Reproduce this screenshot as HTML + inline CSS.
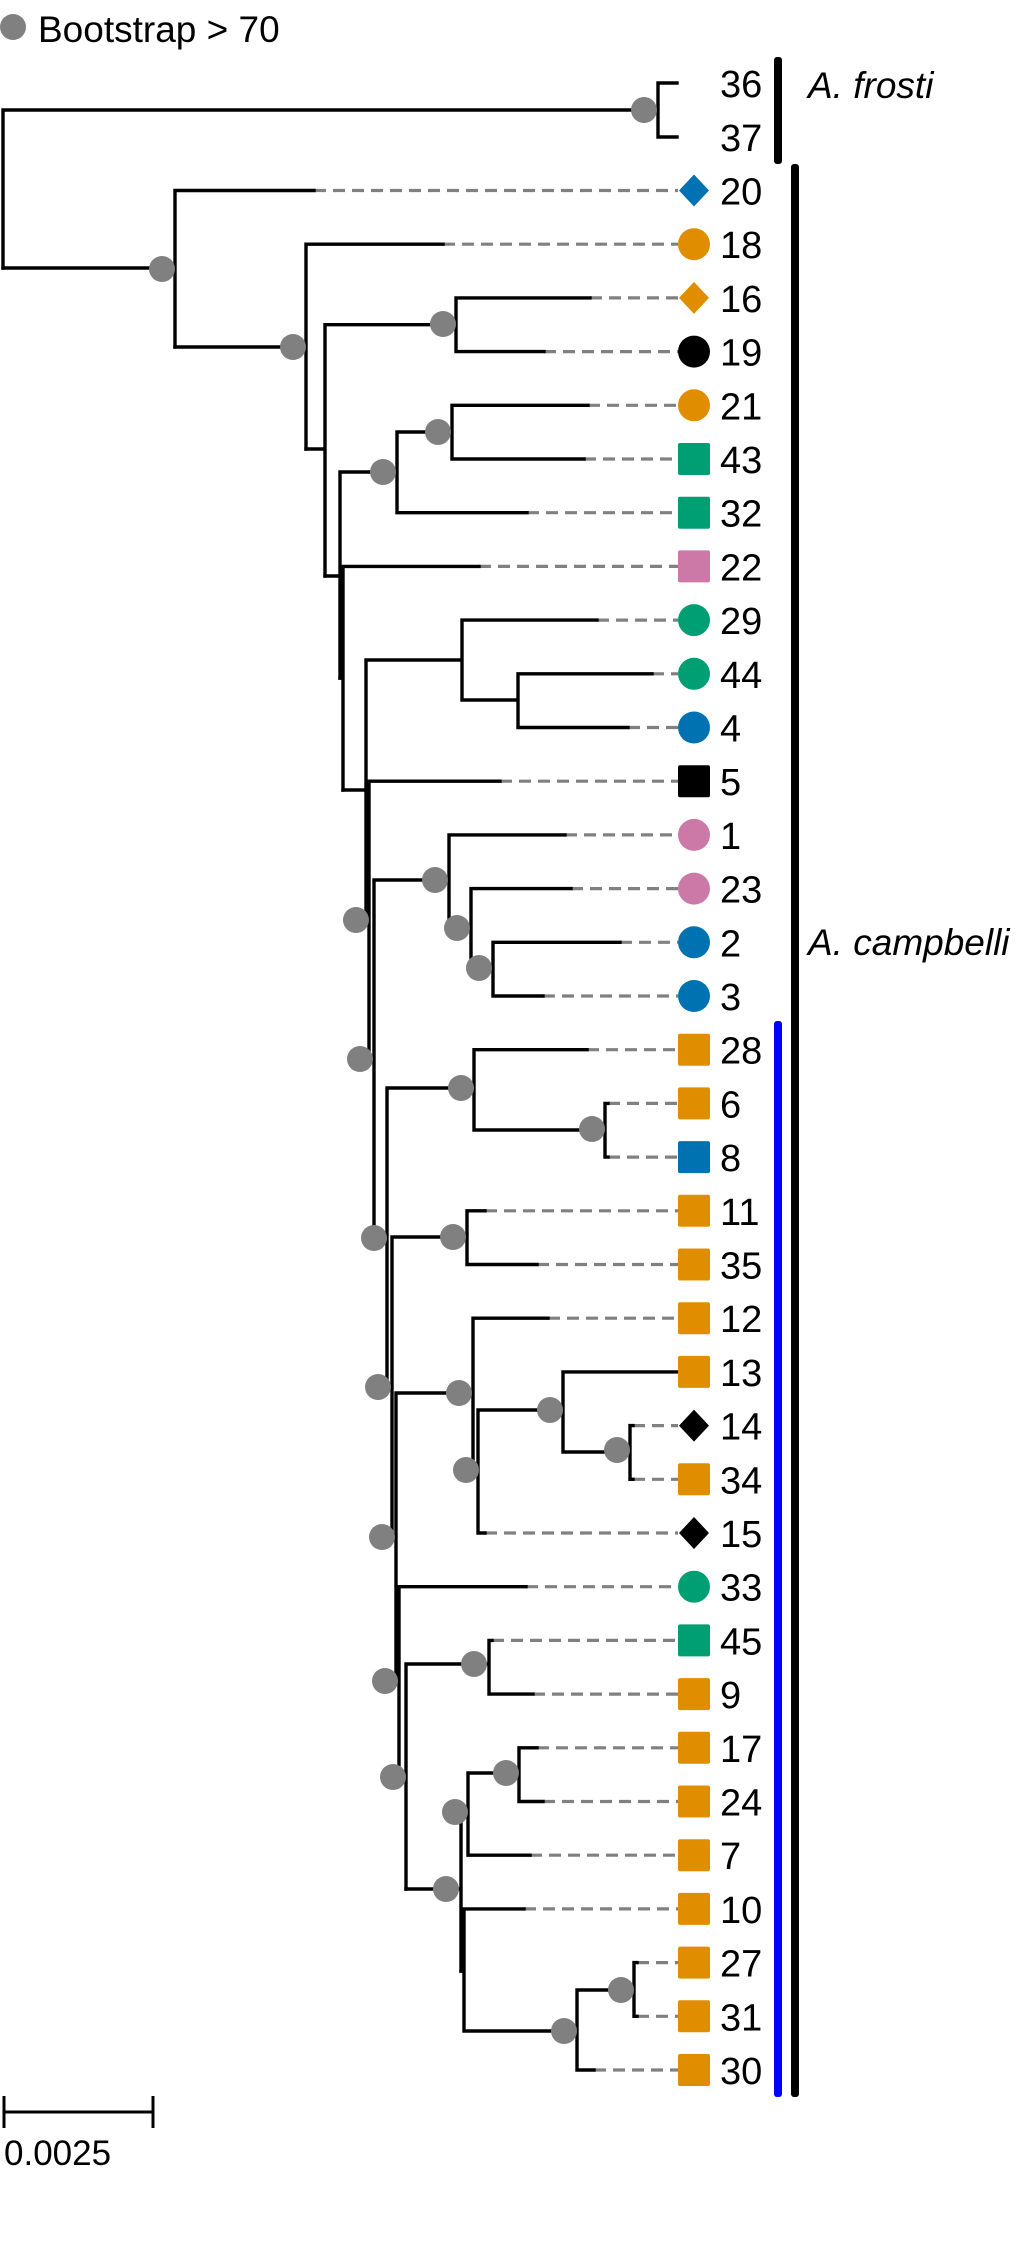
<!DOCTYPE html>
<html><head><meta charset="utf-8"><style>
html,body{margin:0;padding:0;background:#fff;}
svg{display:block;}
text{font-family:"Liberation Sans",sans-serif;fill:#000;}
</style></head><body>
<svg width="1024" height="2245" viewBox="0 0 1024 2245" xmlns="http://www.w3.org/2000/svg">
<!-- legend -->
<circle cx="13" cy="27" r="13" fill="#808080"/>
<text x="38" y="42" font-size="37">Bootstrap &gt; 70</text>

<!-- dashed leaf extensions -->
<g stroke="#808080" stroke-width="3.2" stroke-dasharray="12,7" fill="none">
<path d="M314 190.5H678M443 244.2H678M590 297.9H678M544 351.6H678M588 405.3H678M584 459H678M527 512.7H678M479 566.4H678M597 620.1H678M652 673.8H678M628 727.5H678M500 781.2H678M565 834.9H678M571 888.6H678M620 942.3H678M543 996H678M587 1049.7H678M608 1103.4H678M608 1157.1H678M485 1210.8H678M537 1264.5H678M548 1318.2H678M633 1425.6H678M633 1479.3H678M485 1533H678M526 1586.7H678M492 1640.4H678M533 1694.1H678M537 1747.8H678M543 1801.5H678M530 1855.2H678M524 1908.9H678M637 1962.6H678M637 2016.3H678M594 2070H678"/>
</g>

<!-- solid tree -->
<g stroke="#000" stroke-width="3.4" fill="none" stroke-linecap="square">
<path d="M3 110V268M3 110H658M658 83V137M658 83H677M658 137H677"/>
<path d="M3 268H175M175 190.5V347M175 190.5H314"/>
<path d="M175 347H306M306 244.2V449M306 244.2H443"/>
<path d="M306 449H325M325 324.7V576M325 324.7H456M456 297.9V351.6M456 297.9H590M456 351.6H544"/>
<path d="M325 576H340M340 472V678M340 472H397M397 432V512.7M397 512.7H527M397 432H452M452 405.3V459M452 405.3H588M452 459H584"/>
<path d="M340 678H343M343 566.4V790M343 566.4H479"/>
<path d="M343 790H366M366 660V920M366 660H462M462 620.1V700M462 620.1H597M462 700H518M518 673.8V727.5M518 673.8H652M518 727.5H628"/>
<path d="M366 920H369M369 781.2V1059M369 781.2H500"/>
<path d="M369 1059H374M374 880V1237M374 880H449M449 834.9V928M449 834.9H565M449 928H471M471 888.6V969M471 888.6H571M471 969H493M493 942.3V996M493 942.3H620M493 996H543"/>
<path d="M374 1237H387M387 1088V1387M387 1088H474M474 1049.7V1130M474 1049.7H587M474 1130H605M605 1103.4V1157.1M605 1103.4H608M605 1157.1H608"/>
<path d="M387 1387H392M392 1237V1537M392 1237H467M467 1210.8V1264.5M467 1210.8H485M467 1264.5H537"/>
<path d="M392 1537H396M396 1393V1682M396 1393H473M473 1318.2V1470M473 1318.2H548M473 1470H478M478 1410V1533M478 1533H485M478 1410H563M563 1371.9V1452M563 1371.9H678M563 1452H630M630 1425.6V1479.3M630 1425.6H633M630 1479.3H633"/>
<path d="M396 1682H399M399 1586.7V1777M399 1586.7H526M399 1777H406M406 1664V1889M406 1664H489M489 1640.4V1694.1M489 1640.4H492M489 1694.1H533"/>
<path d="M406 1889H461M461 1812V1971M461 1812H468M468 1773V1855.2M468 1855.2H530M468 1773H519M519 1747.8V1801.5M519 1747.8H537M519 1801.5H543"/>
<path d="M461 1971H464M464 1908.9V2031M464 1908.9H524M464 2031H577M577 1990V2070M577 2070H594M577 1990H634M634 1962.6V2016.3M634 1962.6H637M634 2016.3H637"/>
</g>

<!-- bootstrap dots -->
<g fill="#808080">
<circle cx="644" cy="110" r="13"/>
<circle cx="162" cy="269" r="13"/>
<circle cx="293" cy="347" r="13"/>
<circle cx="443" cy="324" r="13"/>
<circle cx="383" cy="472" r="13"/>
<circle cx="438" cy="432" r="13"/>
<circle cx="435" cy="880" r="13"/>
<circle cx="457" cy="928" r="13"/>
<circle cx="479" cy="968" r="13"/>
<circle cx="356" cy="920" r="13"/>
<circle cx="360" cy="1059" r="13"/>
<circle cx="461" cy="1088" r="13"/>
<circle cx="592" cy="1129" r="13"/>
<circle cx="374" cy="1238" r="13"/>
<circle cx="453" cy="1237" r="13"/>
<circle cx="378" cy="1387" r="13"/>
<circle cx="459" cy="1393" r="13"/>
<circle cx="466" cy="1470" r="13"/>
<circle cx="550" cy="1410" r="13"/>
<circle cx="617" cy="1450" r="13"/>
<circle cx="382" cy="1537" r="13"/>
<circle cx="385" cy="1681" r="13"/>
<circle cx="474" cy="1664" r="13"/>
<circle cx="393" cy="1777" r="13"/>
<circle cx="446" cy="1889" r="13"/>
<circle cx="455" cy="1812" r="13"/>
<circle cx="506" cy="1773" r="13"/>
<circle cx="564" cy="2031" r="13"/>
<circle cx="621" cy="1990" r="13"/>
</g>

<!-- tip symbols -->
<g>
<polygon points="694,174.5 709,190.5 694,206.5 679,190.5" fill="#0072B2"/>
<circle cx="694" cy="244.2" r="16" fill="#E08E00"/>
<polygon points="694,281.9 709,297.9 694,313.9 679,297.9" fill="#E08E00"/>
<circle cx="694" cy="351.6" r="16" fill="#000"/>
<circle cx="694" cy="405.3" r="16" fill="#E08E00"/>
<rect x="678" y="443" width="32" height="32" rx="2" fill="#009E73"/>
<rect x="678" y="496.7" width="32" height="32" rx="2" fill="#009E73"/>
<rect x="678" y="550.4" width="32" height="32" rx="2" fill="#CC79A7"/>
<circle cx="694" cy="620.1" r="16" fill="#009E73"/>
<circle cx="694" cy="673.8" r="16" fill="#009E73"/>
<circle cx="694" cy="727.5" r="16" fill="#0072B2"/>
<rect x="678" y="765.2" width="32" height="32" rx="2" fill="#000"/>
<circle cx="694" cy="834.9" r="16" fill="#CC79A7"/>
<circle cx="694" cy="888.6" r="16" fill="#CC79A7"/>
<circle cx="694" cy="942.3" r="16" fill="#0072B2"/>
<circle cx="694" cy="996" r="16" fill="#0072B2"/>
<rect x="678" y="1033.7" width="32" height="32" rx="2" fill="#E08E00"/>
<rect x="678" y="1087.4" width="32" height="32" rx="2" fill="#E08E00"/>
<rect x="678" y="1141.1" width="32" height="32" rx="2" fill="#0072B2"/>
<rect x="678" y="1194.8" width="32" height="32" rx="2" fill="#E08E00"/>
<rect x="678" y="1248.5" width="32" height="32" rx="2" fill="#E08E00"/>
<rect x="678" y="1302.2" width="32" height="32" rx="2" fill="#E08E00"/>
<rect x="678" y="1355.9" width="32" height="32" rx="2" fill="#E08E00"/>
<polygon points="694,1409.6 709,1425.6 694,1441.6 679,1425.6" fill="#000"/>
<rect x="678" y="1463.3" width="32" height="32" rx="2" fill="#E08E00"/>
<polygon points="694,1517 709,1533 694,1549 679,1533" fill="#000"/>
<circle cx="694" cy="1586.7" r="16" fill="#009E73"/>
<rect x="678" y="1624.4" width="32" height="32" rx="2" fill="#009E73"/>
<rect x="678" y="1678.1" width="32" height="32" rx="2" fill="#E08E00"/>
<rect x="678" y="1731.8" width="32" height="32" rx="2" fill="#E08E00"/>
<rect x="678" y="1785.5" width="32" height="32" rx="2" fill="#E08E00"/>
<rect x="678" y="1839.2" width="32" height="32" rx="2" fill="#E08E00"/>
<rect x="678" y="1892.9" width="32" height="32" rx="2" fill="#E08E00"/>
<rect x="678" y="1946.6" width="32" height="32" rx="2" fill="#E08E00"/>
<rect x="678" y="2000.3" width="32" height="32" rx="2" fill="#E08E00"/>
<rect x="678" y="2054" width="32" height="32" rx="2" fill="#E08E00"/>
</g>

<!-- tip labels -->
<g font-size="38">
<text x="720" y="97">36</text>
<text x="720" y="151">37</text>
<text x="720" y="204.5">20</text>
<text x="720" y="258.2">18</text>
<text x="720" y="311.9">16</text>
<text x="720" y="365.6">19</text>
<text x="720" y="419.3">21</text>
<text x="720" y="473">43</text>
<text x="720" y="526.7">32</text>
<text x="720" y="580.4">22</text>
<text x="720" y="634.1">29</text>
<text x="720" y="687.8">44</text>
<text x="720" y="741.5">4</text>
<text x="720" y="795.2">5</text>
<text x="720" y="848.9">1</text>
<text x="720" y="902.6">23</text>
<text x="720" y="956.3">2</text>
<text x="720" y="1010">3</text>
<text x="720" y="1063.7">28</text>
<text x="720" y="1117.4">6</text>
<text x="720" y="1171.1">8</text>
<text x="720" y="1224.8">11</text>
<text x="720" y="1278.5">35</text>
<text x="720" y="1332.2">12</text>
<text x="720" y="1385.9">13</text>
<text x="720" y="1439.6">14</text>
<text x="720" y="1493.3">34</text>
<text x="720" y="1547">15</text>
<text x="720" y="1600.7">33</text>
<text x="720" y="1654.4">45</text>
<text x="720" y="1708.1">9</text>
<text x="720" y="1761.8">17</text>
<text x="720" y="1815.5">24</text>
<text x="720" y="1869.2">7</text>
<text x="720" y="1922.9">10</text>
<text x="720" y="1976.6">27</text>
<text x="720" y="2030.3">31</text>
<text x="720" y="2084">30</text>
</g>

<!-- clade bars -->
<rect x="774" y="57" width="8" height="107" rx="3" fill="#000"/>
<rect x="791" y="164" width="8" height="1933" rx="3" fill="#000"/>
<rect x="774" y="1021" width="8" height="1076" rx="3" fill="#0000FF"/>
<text x="808" y="98" font-size="37" font-style="italic">A. frosti</text>
<text x="808" y="955" font-size="37" font-style="italic">A. campbelli</text>

<!-- scale bar -->
<g stroke="#000" stroke-width="3" fill="none">
<path d="M4 2112H153M4 2096V2128M153 2096V2128"/>
</g>
<text x="4" y="2165" font-size="35">0.0025</text>
</svg>
</body></html>
